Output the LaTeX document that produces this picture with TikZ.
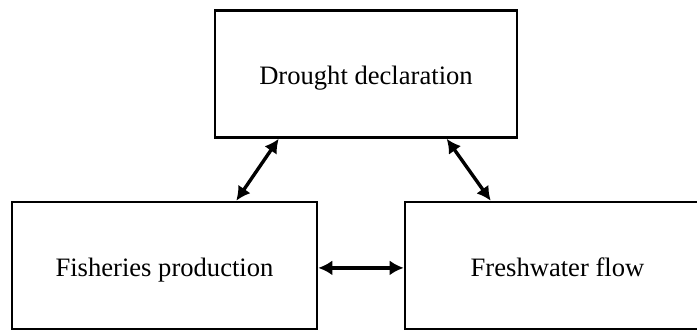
\documentclass[tikz,border=0pt]{standalone}
\usepackage{fontspec}
\setmainfont{Liberation Serif}
\usepackage{tikz}
\usetikzlibrary{arrows.meta,positioning,calc}

\begin{document}
\begin{tikzpicture}[
    x=0.5pt, y=0.5pt,
    box/.style={rectangle, draw, line width=1.3pt, minimum width=151pt, minimum height=63.5pt, inner sep=0pt, text height=11pt, text depth=0pt, font=\fontsize{13.3}{15}\selectfont},
    link/.style={{Latex[length=7pt,width=7.5pt]}-{Latex[length=7pt,width=7.5pt]}, line width=1.7pt}
]
    \clip (0,0) rectangle (697,331);
    \node[box, minimum width=151pt] (drought) at (366,257) {Drought declaration};
    \node[box, minimum width=152.5pt] (fisheries) at (164.5,65.5) {Fisheries production};
    \node[box, minimum width=152.5pt] (freshwater) at (557.5,65.5) {Freshwater flow};

    % links between the three boxes
    \draw[link] ([xshift=32.5pt]drought.south west) -- ([xshift=-41pt]fisheries.north east);
    \draw[link] ([xshift=116.5pt]drought.south west) -- ([xshift=43.5pt]freshwater.north west);
    \draw[link] ([yshift=-1.2pt]fisheries.east) -- ([yshift=-1.2pt]freshwater.west);
\end{tikzpicture}
\end{document}
